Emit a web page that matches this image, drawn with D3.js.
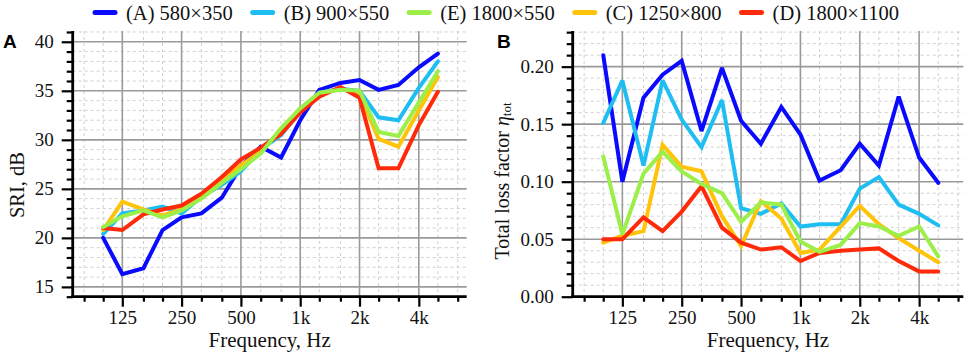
<!DOCTYPE html>
<html><head><meta charset="utf-8">
<script src="https://cdn.jsdelivr.net/npm/d3@7"></script>
<style>body{margin:0;background:#fff}</style>
</head><body><svg id="c" width="969" height="353"></svg>
<script>
// ---- data ----
const freqs = [100,125,160,200,250,315,400,500,630,800,1000,1250,1600,2000,2500,3150,4000,5000];
const seriesNames = ["(A) 580×350","(B) 900×550","(E) 1800×550","(C) 1250×800","(D) 1800×1100"];
const seriesColors = ["#0a0aff","#1ebef2","#9cef48","#ffc40a","#ff2a0a"];
// Panel A: SRI, dB
const sriA = [20.0,16.3,16.9,20.8,22.1,22.5,24.1,27.3,29.3,28.2,32.0,35.1,35.8,36.1,35.1,35.6,37.4,38.8];
const sriB = [20.4,22.5,22.8,23.2,22.5,24.2,25.4,26.8,29.0,30.5,32.9,34.8,35.2,35.0,32.3,32.0,35.3,38.0];
const sriE = [21.1,22.2,22.8,22.1,22.8,24.0,25.6,27.0,28.6,31.2,33.2,34.8,35.1,35.0,30.8,30.4,33.8,37.0];
const sriC = [20.8,23.7,22.9,22.3,22.9,24.3,25.9,27.4,28.8,31.0,33.2,34.7,35.2,34.7,30.1,29.3,33.0,36.4];
const sriD = [21.0,20.8,22.4,22.9,23.3,24.5,26.2,28.0,29.2,30.6,32.8,34.4,35.4,34.3,27.1,27.1,31.5,34.9];
// Panel B: total loss factor
const lossA = [0.210,0.100,0.173,0.193,0.205,0.144,0.199,0.153,0.133,0.165,0.141,0.101,0.110,0.133,0.114,0.174,0.121,0.099];
const lossB = [0.151,0.188,0.114,0.188,0.154,0.130,0.171,0.077,0.072,0.081,0.061,0.063,0.063,0.094,0.104,0.080,0.072,0.062];
const lossE = [0.122,0.054,0.107,0.126,0.109,0.098,0.090,0.065,0.082,0.080,0.048,0.039,0.045,0.064,0.061,0.053,0.061,0.035];
const lossC = [0.047,0.053,0.057,0.132,0.113,0.109,0.070,0.044,0.083,0.068,0.038,0.041,0.061,0.079,0.063,0.051,0.040,0.030];
const lossD = [0.050,0.050,0.069,0.057,0.074,0.096,0.060,0.047,0.041,0.043,0.031,0.038,0.040,0.041,0.042,0.031,0.022,0.022];
const xTickFreqs = [125,250,500,1000,2000,4000];
const xTickLabels = ["125","250","500","1k","2k","4k"];
const minorFreqs = [80,100,160,200,315,400,630,800,1250,1600,2500,3150,5000,6300];
const sriTicks = [15,20,25,30,35,40];
const lossTicks = [0,0.05,0.10,0.15,0.20];

const svg = d3.select("#c");
const serif = "'Liberation Serif','Times New Roman',serif";
const sans = "'Liberation Sans',Arial,sans-serif";
const drawOrder = [0,1,3,4,2];

function panel(o){
  const x = d3.scaleLog().domain(o.xDomain).range([o.left,o.right]);
  const y = d3.scaleLinear().domain(o.yDomain).range([o.bottom,o.top]);
  const g = svg.append("g");
  // minor grid
  const yMinor = d3.range(o.yDomain[0], o.yDomain[1]+1e-9, o.yMinorStep).filter(v=>!o.yMajor.some(m=>Math.abs(m-v)<1e-9));
  g.selectAll(".hm").data(yMinor).join("line")
    .attr("x1",o.left).attr("x2",o.right).attr("y1",d=>y(d)).attr("y2",d=>y(d))
    .attr("stroke","#d0d0d0").attr("stroke-width",1).attr("stroke-dasharray","3,3");
  g.selectAll(".vm").data(minorFreqs).join("line")
    .attr("y1",o.top).attr("y2",o.bottom).attr("x1",d=>x(d)).attr("x2",d=>x(d))
    .attr("stroke","#d0d0d0").attr("stroke-width",1).attr("stroke-dasharray","3,3");
  // major grid
  g.selectAll(".hM").data(o.yMajor).join("line")
    .attr("x1",o.left).attr("x2",o.right).attr("y1",d=>y(d)).attr("y2",d=>y(d))
    .attr("stroke","#9a9a9a").attr("stroke-width",1.6);
  g.selectAll(".vM").data(xTickFreqs).join("line")
    .attr("y1",o.top).attr("y2",o.bottom).attr("x1",d=>x(d)).attr("x2",d=>x(d))
    .attr("stroke","#9a9a9a").attr("stroke-width",1.6);
  // series
  const line = d3.line().x((d,i)=>x(freqs[i])).y(d=>y(d));
  drawOrder.forEach(k=>{
    g.append("path").attr("d",line(o.series[k])).attr("fill","none")
      .attr("stroke",seriesColors[k]).attr("stroke-width",4)
      .attr("stroke-linejoin","miter").attr("stroke-miterlimit",3).attr("stroke-linecap","round");
  });
  // y axis
  const ya = d3.axisLeft(y).tickValues(o.yMajor).tickSize(11).tickFormat(o.yFmt).tickPadding(8);
  const yag = g.append("g").attr("transform",`translate(${o.left},0)`).call(ya);
  yag.select(".domain").remove();
  const yma = d3.axisLeft(y).tickValues(yMinor).tickSize(6).tickFormat("");
  const ymg = g.append("g").attr("transform",`translate(${o.left},0)`).call(yma);
  ymg.select(".domain").remove();
  // x axis
  const xa = d3.axisBottom(x).tickValues(xTickFreqs).tickSize(10).tickPadding(4)
    .tickFormat((d,i)=>xTickLabels[i]);
  const xag = g.append("g").attr("transform",`translate(0,${o.bottom})`).call(xa);
  xag.select(".domain").remove();
  const xma = d3.axisBottom(x).tickValues(minorFreqs).tickSize(5).tickFormat("");
  const xmg = g.append("g").attr("transform",`translate(0,${o.bottom})`).call(xma);
  xmg.select(".domain").remove();
  [yag,ymg,xag,xmg].forEach(a=>{
    a.attr("font-family",serif);
    a.selectAll("line").attr("stroke","#000").attr("stroke-width",2.2);
    a.selectAll("text").attr("font-family",serif).attr("font-size",19).attr("fill","#111");
  });
  // axis lines
  g.append("line").attr("x1",o.left).attr("x2",o.left).attr("y1",o.top).attr("y2",o.bottom+1.3)
    .attr("stroke","#000").attr("stroke-width",2.8);
  g.append("line").attr("x1",o.left-1.3).attr("x2",o.right).attr("y1",o.bottom).attr("y2",o.bottom)
    .attr("stroke","#000").attr("stroke-width",2.8);
  // x title
  g.append("text").attr("x",(o.left+o.right)/2).attr("y",347).attr("text-anchor","middle")
    .attr("font-family",serif).attr("font-size",21).attr("fill","#111").text("Frequency, Hz");
  // panel letter
  g.append("text").attr("x",o.letterX).attr("y",48).attr("font-family",sans).attr("font-weight","bold")
    .attr("font-size",19).attr("fill","#000").text(o.letter);
  return g;
}

panel({left:72.7,right:466.7,top:31,bottom:296.7,xDomain:[70,7000],yDomain:[14,41.1],
  yMajor:sriTicks,yMinorStep:1,yFmt:d3.format("d"),series:[sriA,sriB,sriE,sriC,sriD],letter:"A",letterX:3});
panel({left:572.7,right:963.3,top:31,bottom:296.7,xDomain:[70,6700],yDomain:[0,0.231],
  yMajor:lossTicks,yMinorStep:0.01,yFmt:d3.format(".2f"),series:[lossA,lossB,lossE,lossC,lossD],letter:"B",letterX:497});

// y titles
svg.append("text").attr("transform","translate(17,185) rotate(-90)").attr("text-anchor","middle")
  .attr("dominant-baseline","central").attr("font-family",serif).attr("font-size",20.5).attr("fill","#111").text("SRI, dB");
const yt = svg.append("text").attr("transform","translate(502,181) rotate(-90)").attr("text-anchor","middle")
  .attr("dominant-baseline","central").attr("font-family",serif).attr("font-size",20).attr("fill","#111");
yt.append("tspan").text("Total loss factor ");
yt.append("tspan").attr("font-style","italic").text("η");
yt.append("tspan").attr("font-size",13).attr("dy",4).text("tot");

// legend
const lg = svg.append("g");
let lx = 93;
seriesNames.forEach((n,i)=>{
  lg.append("line").attr("x1",lx+2).attr("x2",lx+22).attr("y1",12.5).attr("y2",12.5)
    .attr("stroke",seriesColors[i]).attr("stroke-width",5).attr("stroke-linecap","round");
  const t = lg.append("text").attr("x",lx+33).attr("y",19.5).attr("font-family",serif)
    .attr("font-size",20.5).attr("fill","#111").text(n);
  lx = lx + 33 + t.node().getComputedTextLength() + 18;
});
</script></body></html>
